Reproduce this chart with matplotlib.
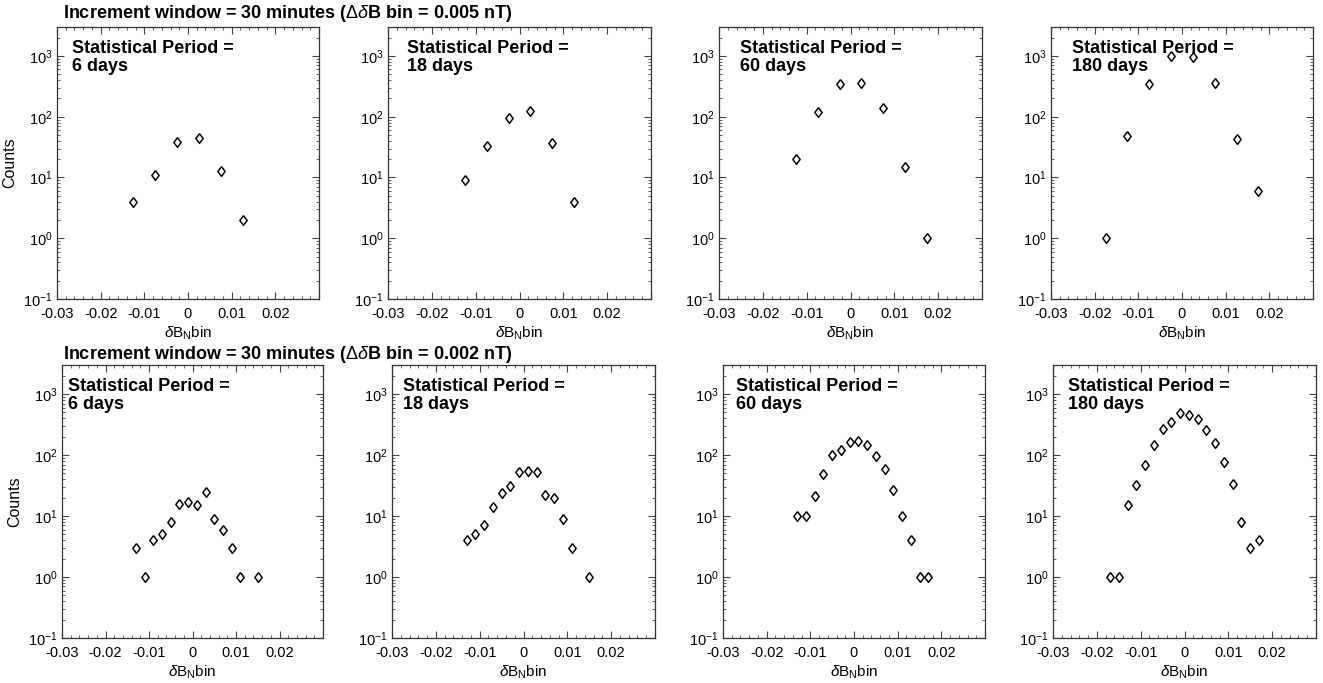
import numpy as np
import matplotlib
matplotlib.use("Agg")
import matplotlib.pyplot as plt
from matplotlib.ticker import MultipleLocator, FixedLocator, FixedFormatter, LogLocator, NullFormatter

plt.rcParams['font.family'] = ['Liberation Sans', 'DejaVu Sans']
plt.rcParams['mathtext.fontset'] = 'custom'
plt.rcParams['mathtext.rm'] = 'Liberation Sans'
plt.rcParams['mathtext.it'] = 'Liberation Sans:italic'
plt.rcParams['mathtext.bf'] = 'Liberation Sans:bold'

# bin centres
x_coarse = [-0.0175, -0.0125, -0.0075, -0.0025, 0.0025, 0.0075, 0.0125, 0.0175]
x_fine = [-0.017, -0.015, -0.013, -0.011, -0.009, -0.007, -0.005, -0.003, -0.001,
          0.001, 0.003, 0.005, 0.007, 0.009, 0.011, 0.013, 0.015, 0.017]

periods = ['6 days', '18 days', '60 days', '180 days']

# counts per bin (nan = empty bin), bin 0.005 nT
coarse_6 = [np.nan, 4, 11, 39, 45, 13, 2, np.nan]
coarse_18 = [np.nan, 9, 33, 96, 125, 37, 4, np.nan]
coarse_60 = [np.nan, 20, 118, 345, 365, 137, 15, 1]
coarse_180 = [1, 48, 340, 1000, 980, 365, 43, 6]

# bin 0.002 nT
fine_6 = [np.nan, np.nan, 3, 1, 4, 5, 8, 16, 17, 15, 25, 9, 6, 3, 1, np.nan, 1, np.nan]
fine_18 = [np.nan, np.nan, 4, 5, 7, 14, 24, 31, 52, 55, 52, 22, 20, 9, 3, np.nan, 1, np.nan]
fine_60 = [np.nan, np.nan, 10, 10, 21, 49, 100, 122, 162, 168, 145, 97, 59, 27, 10, 4, 1, 1]
fine_180 = [1, 1, 15, 32, 70, 148, 263, 352, 494, 455, 385, 258, 159, 76, 33, 8, 3, 4]

rows = [
    ('Increment window = 30 minutes ($\\Delta\\it{\\delta}$B bin = 0.005 nT)',
     x_coarse, [coarse_6, coarse_18, coarse_60, coarse_180]),
    ('Increment window = 30 minutes ($\\Delta\\it{\\delta}$B bin = 0.002 nT)',
     x_fine, [fine_6, fine_18, fine_60, fine_180]),
]

W, H = 1323, 683
fig = plt.figure(figsize=(W / 100, H / 100), dpi=100)

# panel boxes in pixels: (left, right) per column, (top, bottom) per row
cols_px = [[(57, 319), (388, 651), (719, 982), (1051, 1313)],
           [(62, 323), (392, 655), (723, 985), (1053, 1316)]]
rows_px = [(27, 299), (365, 638)]
title_base = [18, 359]
text_dx = [[15, 19, 21, 21], [6, 11, 13, 15]]

diamond = [(0, 1), (0.75, 0), (0, -1), (-0.75, 0), (0, 1)]

for r, (title, xs, series) in enumerate(rows):
    top, bot = rows_px[r]
    for c, ys in enumerate(series):
        l, rr = cols_px[r][c]
        ax = fig.add_axes([l / W, 1 - bot / H, (rr - l) / W, (bot - top) / H])
        ax.plot(xs, ys, linestyle='none', marker=diamond, markersize=7,
                markerfacecolor='white', markeredgecolor='black', markeredgewidth=1.1)
        ax.set_yscale('log')
        ax.set_ylim(0.1, 3000)
        ax.set_xlim(-0.03, 0.03)
        ax.xaxis.set_major_locator(FixedLocator([-0.03, -0.02, -0.01, 0, 0.01, 0.02, 0.03]))
        ax.xaxis.set_major_formatter(FixedFormatter(['-0.03', '-0.02', '-0.01', '0', '0.01', '0.02', '']))
        ax.xaxis.set_minor_locator(MultipleLocator(0.002))
        ax.yaxis.set_major_locator(LogLocator(base=10, numticks=10))
        ax.yaxis.set_minor_locator(LogLocator(base=10, subs=np.arange(2, 10), numticks=10))
        ax.yaxis.set_minor_formatter(NullFormatter())
        ax.tick_params(which='both', direction='in', top=True, right=True,
                       labelsize=10.5, color='#444444')
        ax.tick_params(axis='x', pad=6)
        ax.tick_params(axis='y', pad=3)
        ax.tick_params(which='major', length=5, width=0.8)
        ax.tick_params(which='minor', length=2.5, width=0.6)
        for s in ax.spines.values():
            s.set_linewidth(0.9)
            s.set_color('#333333')
        ax.set_xlabel('$\\it{\\delta}$B$_\\mathrm{N}$bin', fontsize=11, labelpad=2)
        if c == 0:
            ax.set_ylabel('Counts', fontsize=11.5, labelpad=4)
        ax.text(text_dx[r][c] / (rr - l), 1 - 13 / (bot - top),
                'Statistical Period =\n' + periods[c], transform=ax.transAxes,
                ha='left', va='top', fontsize=13, fontweight='bold', linespacing=1.05)
    fig.text(63 / W, 1 - title_base[r] / H, title, ha='left', va='baseline',
             fontsize=13, fontweight='bold')

fig.savefig('out.png', dpi=100)
